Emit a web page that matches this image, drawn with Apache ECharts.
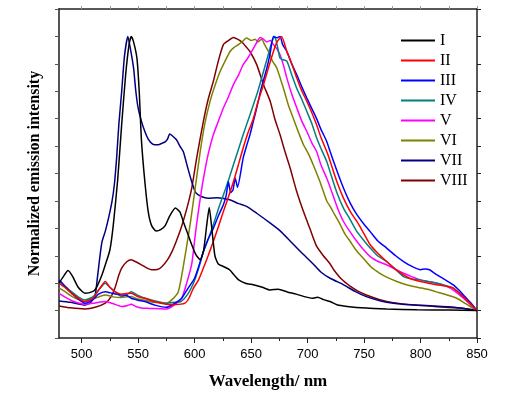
<!DOCTYPE html>
<html>
<head>
<meta charset="utf-8">
<script src="https://cdn.jsdelivr.net/npm/echarts@6/dist/echarts.min.js"></script>
<style>
  html, body { margin: 0; padding: 0; background: #fff; }
  #main { width: 517px; height: 396px; }
</style>
</head>
<body>
<div id="main"></div>
<script type="text/javascript">
	// 图例名称
	var names = ['I', 'II', 'III', 'IV', 'V', 'VI', 'VII', 'VIII'];
	// 每条曲线 [波长 nm, 归一化强度]
	var dataI = [[480,0.10],[484,0.125],[488,0.146],[492,0.125],[497,0.085],[503,0.063],[510,0.07],[513,0.083],[518,0.13],[521,0.167],[525,0.22],[528,0.31],[532,0.48],[535.5,0.68],[539,0.86],[542,0.97],[544,1.0],[546,0.98],[549,0.92],[551,0.80],[553,0.62],[556,0.47],[559,0.36],[562,0.31],[566,0.29],[570,0.295],[574,0.31],[578,0.345],[583,0.374],[587,0.36],[590,0.325],[594,0.28],[597.5,0.24],[601,0.205],[605,0.185],[608,0.22],[611,0.32],[613,0.376],[615,0.31],[618,0.20],[621,0.17],[626,0.16],[631,0.149],[635,0.13],[639,0.112],[645,0.10],[652,0.094],[660,0.085],[667,0.075],[674,0.078],[682,0.068],[690,0.06],[698,0.05],[704,0.045],[709,0.049],[714,0.04],[720,0.033],[726,0.021],[735,0.015],[752,0.009],[770,0.006],[797,0.003],[825,0.002],[850,0]];
	var dataII = [[480,0.10],[485,0.085],[492,0.06],[503,0.033],[510,0.045],[516,0.08],[521,0.106],[525,0.085],[529.5,0.069],[535,0.06],[540,0.062],[544,0.063],[550,0.05],[556,0.045],[565,0.032],[575,0.023],[583,0.022],[591.5,0.027],[595,0.045],[599,0.082],[603.3,0.11],[607.8,0.155],[612,0.2],[616.6,0.252],[621,0.305],[625.5,0.361],[630,0.415],[634.4,0.47],[639,0.535],[643,0.593],[647,0.645],[652,0.70],[656,0.76],[661,0.824],[665,0.88],[669.8,0.945],[673,0.98],[677,1.0],[681.7,0.945],[686,0.9],[690.5,0.848],[695,0.80],[699.4,0.763],[704,0.72],[708,0.678],[712,0.63],[717,0.58],[720,0.545],[726,0.47],[731.8,0.41],[738,0.36],[743.7,0.325],[750,0.28],[755.5,0.24],[762,0.21],[770,0.179],[778,0.15],[785,0.13],[792,0.115],[800,0.106],[807,0.10],[814.6,0.094],[822,0.09],[829,0.082],[838,0.05],[850,0]];
	var dataIII = [[480,0.112],[485,0.09],[492,0.06],[503,0.027],[510,0.04],[515,0.06],[521,0.069],[528,0.062],[535.5,0.057],[540,0.055],[544,0.045],[550,0.038],[556,0.033],[565,0.02],[575,0.012],[582,0.025],[588.6,0.045],[594,0.08],[600,0.118],[604,0.165],[607.8,0.215],[612,0.26],[616.6,0.30],[621,0.345],[625.5,0.386],[628,0.42],[629.9,0.47],[632,0.43],[634,0.44],[636,0.483],[638,0.45],[643,0.556],[646,0.60],[649,0.641],[652,0.69],[655,0.739],[659,0.81],[664,0.885],[667,0.94],[669.8,1.0],[673,0.995],[675.7,1.0],[678,0.97],[681.7,0.945],[686,0.9],[690.5,0.86],[695,0.815],[699.4,0.775],[704,0.735],[708,0.70],[712,0.66],[717,0.617],[720,0.58],[726,0.51],[731.8,0.447],[738,0.39],[743.7,0.35],[750,0.315],[755.5,0.288],[762,0.255],[770,0.228],[778,0.2],[785,0.179],[792,0.162],[800,0.149],[804,0.152],[808,0.149],[811,0.14],[814.6,0.13],[822,0.112],[829,0.094],[834,0.075],[838,0.057],[844,0.03],[850,0]];
	var dataIV = [[480,0.112],[485,0.09],[491,0.069],[497,0.05],[503,0.039],[510,0.05],[515,0.075],[521,0.10],[525,0.085],[529.5,0.069],[535.5,0.051],[540,0.058],[544,0.069],[550,0.055],[556,0.045],[565,0.035],[575,0.027],[582,0.03],[588,0.033],[594,0.06],[600,0.11],[604,0.16],[607.8,0.215],[612,0.26],[616.6,0.313],[621,0.37],[625.5,0.422],[630,0.475],[634.4,0.532],[639,0.59],[643,0.641],[647,0.69],[652,0.75],[656,0.80],[661,0.872],[665,0.93],[668.4,0.98],[671,1.0],[673,0.97],[675.7,0.92],[678,0.915],[681.7,0.91],[686,0.86],[690.5,0.81],[695,0.77],[699.4,0.726],[704,0.68],[708,0.63],[712,0.59],[717,0.544],[720,0.505],[726,0.43],[731.8,0.374],[738,0.33],[743.7,0.288],[750,0.255],[755.5,0.228],[762,0.20],[770,0.179],[778,0.15],[785,0.124],[792,0.115],[800,0.112],[807,0.106],[814.6,0.10],[822,0.092],[829,0.082],[838,0.05],[850,0]];
	var dataV = [[480,0.063],[485,0.05],[492,0.035],[503,0.023],[512,0.028],[521,0.033],[528,0.025],[535.5,0.015],[540,0.018],[544,0.023],[548,0.015],[553,0.009],[560,0.008],[568,0.007],[575,0.006],[582,0.02],[588.6,0.045],[593,0.1],[597.5,0.17],[601,0.29],[604,0.38],[607.8,0.48],[612,0.57],[616.6,0.641],[621,0.69],[625.5,0.739],[630,0.78],[634.4,0.824],[639,0.86],[643,0.897],[647,0.92],[650.6,0.945],[654,0.97],[658,0.996],[661,0.99],[664,0.98],[667,0.985],[669.8,0.97],[672,0.96],[675.7,0.933],[679,0.89],[681.7,0.848],[686,0.79],[690.5,0.739],[695,0.69],[699.4,0.653],[704,0.61],[708,0.58],[712,0.53],[717,0.483],[720,0.45],[726,0.38],[731.8,0.325],[738,0.285],[743.7,0.252],[750,0.22],[755.5,0.197],[762,0.18],[770,0.167],[778,0.15],[785,0.136],[792,0.124],[800,0.112],[807,0.105],[814.6,0.10],[822,0.09],[829,0.075],[838,0.045],[850,0]];
	var dataVI = [[480,0.083],[485,0.07],[492,0.05],[503,0.033],[512,0.045],[521,0.057],[528,0.05],[535,0.048],[540,0.05],[544,0.051],[550,0.042],[556,0.038],[562,0.031],[570,0.028],[575,0.027],[580,0.04],[585.6,0.069],[590,0.16],[596,0.313],[600,0.43],[605,0.58],[609,0.68],[613.7,0.763],[618,0.82],[622.6,0.872],[627,0.91],[631.4,0.945],[635,0.96],[638.8,0.97],[642,0.98],[646,0.994],[650,0.985],[653.6,0.99],[656,0.98],[659.5,0.99],[662,0.97],[665.4,0.945],[669,0.91],[672.8,0.885],[678.7,0.81],[683,0.75],[687.5,0.70],[692,0.65],[696.4,0.605],[701,0.57],[705,0.532],[711,0.47],[717,0.40],[720,0.38],[724,0.35],[729,0.313],[733,0.28],[737.8,0.252],[743,0.22],[749.5,0.19],[756,0.16],[764,0.136],[771,0.12],[779,0.106],[786,0.096],[793.8,0.088],[801,0.082],[808.6,0.075],[816,0.066],[823.4,0.057],[832,0.045],[840,0.025],[850,0]];
	var dataVII = [[480,0.035],[490,0.03],[503,0.02],[508,0.03],[512,0.057],[514,0.12],[516,0.19],[518,0.25],[521,0.29],[524,0.34],[527,0.40],[529,0.46],[531,0.556],[533,0.68],[535.5,0.80],[538,0.93],[541,1.0],[543,0.96],[546,0.885],[548,0.80],[550,0.74],[553,0.69],[556,0.653],[559,0.625],[562,0.61],[565,0.605],[568,0.605],[571,0.61],[574,0.615],[576,0.625],[578,0.644],[581,0.635],[584,0.623],[587,0.60],[590,0.58],[594,0.52],[597.5,0.47],[601,0.43],[606,0.416],[612,0.41],[620,0.412],[631,0.404],[639,0.39],[646,0.38],[655,0.355],[667,0.319],[676,0.29],[685,0.252],[695,0.21],[705,0.17],[712,0.14],[720,0.118],[732,0.094],[742,0.07],[752,0.051],[764,0.036],[776,0.027],[795,0.02],[811,0.017],[830,0.012],[850,0]];
	var dataVIII = [[480,0.017],[490,0.01],[503,0.006],[512,0.012],[521,0.027],[526,0.05],[529.5,0.082],[533,0.13],[535.5,0.155],[540,0.178],[544,0.185],[548,0.178],[553,0.167],[558,0.155],[562,0.149],[567,0.15],[571,0.16],[576,0.185],[580,0.215],[584,0.255],[588,0.30],[593,0.37],[597.5,0.447],[602,0.56],[607.8,0.69],[612,0.77],[616.6,0.836],[621,0.91],[625.5,0.97],[630,0.985],[634.4,0.996],[638,0.99],[641.8,0.98],[645,0.965],[649,0.945],[655,0.897],[661,0.824],[667,0.763],[671,0.70],[675.7,0.641],[680,0.58],[684.6,0.52],[690,0.44],[696.4,0.361],[702,0.30],[708,0.235],[714,0.2],[720,0.17],[723,0.15],[730,0.115],[738,0.088],[745,0.07],[752,0.057],[764,0.04],[776,0.029],[795,0.02],[812,0.015],[835,0.009],[850,0]];
	var allData = [dataI, dataII, dataIII, dataIV, dataV, dataVI, dataVII, dataVIII];
	var colors = ['#000000', '#ff0000', '#0000ff', '#008080', '#ff00ff', '#808000', '#000080', '#800000'];
	// 刻度
	var majorTicks = [500, 550, 600, 650, 700, 750, 800, 850];
	var minorTicks = [525, 575, 625, 675, 725, 775, 825];

	var myChart = echarts.init(document.getElementById('main'));
	var axisColor = '#222';

	var series = [];
	for (var i = 0; i < names.length; i++) {
	    series.push({
	        name: names[i],
	        type: 'line',
	        symbol: 'none',
	        smooth: 0.2,
	        lineStyle: { color: colors[i], width: 1.5 },
	        itemStyle: { color: colors[i] },
	        data: allData[i],
	        z: 10 - i
	    });
	}

	var option = {
	    animation: false,
	    grid: { left: 59, right: 40, top: 9, bottom: 58, containLabel: false },
	    legend: {
	        data: names,
	        orient: 'vertical',
	        left: 396,
	        top: 27,
	        icon: 'rect',
	        itemWidth: 34,
	        itemHeight: 2,
	        itemGap: 3,
	        textStyle: { fontFamily: 'Liberation Serif', fontSize: 16, color: '#000', lineHeight: 17 }
	    },
	    xAxis: [
	        {
	            type: 'value', min: 480, max: 850, position: 'bottom',
	            name: 'Wavelength/ nm', nameLocation: 'middle', nameGap: 35,
	            nameTextStyle: { fontFamily: 'Liberation Serif', fontWeight: 'bold', fontSize: 17, color: '#000' },
	            axisLine: { show: true, onZero: false, lineStyle: { color: axisColor, width: 1.5 } },
	            axisTick: { show: true, length: 5, customValues: majorTicks, lineStyle: { color: axisColor } },
	            axisLabel: { customValues: majorTicks, margin: 10, fontFamily: 'Liberation Sans', fontSize: 13, color: '#000' },
	            splitLine: { show: false }
	        },
	        {
	            type: 'value', min: 480, max: 850, position: 'bottom',
	            axisLine: { show: false, onZero: false },
	            axisTick: { show: true, length: 3, customValues: minorTicks, lineStyle: { color: axisColor } },
	            axisLabel: { show: false },
	            splitLine: { show: false }
	        },
	        {
	            type: 'value', min: 480, max: 850, position: 'top',
	            axisLine: { show: true, onZero: false, lineStyle: { color: axisColor, width: 1.5 } },
	            axisTick: { show: true, length: 3, customValues: majorTicks.concat(minorTicks), lineStyle: { color: '#999' } },
	            axisLabel: { show: false },
	            splitLine: { show: false }
	        }
	    ],
	    yAxis: [
	        {
	            type: 'value', min: -0.1, max: 1.1, interval: 0.1, position: 'left',
	            name: 'Normalized emission intensity', nameLocation: 'middle', nameGap: 16,
	            nameTextStyle: { fontFamily: 'Liberation Serif', fontWeight: 'bold', fontSize: 16, color: '#000' },
	            axisLine: { show: true, onZero: false, lineStyle: { color: '#555', width: 2 } },
	            axisTick: { show: true, length: 4, lineStyle: { color: '#555' } },
	            axisLabel: { show: false },
	            splitLine: { show: false }
	        },
	        {
	            type: 'value', min: -0.1, max: 1.1, interval: 0.1, position: 'right',
	            axisLine: { show: true, onZero: false, lineStyle: { color: axisColor, width: 1.5 } },
	            axisTick: { show: true, length: 4, lineStyle: { color: axisColor } },
	            axisLabel: { show: false },
	            splitLine: { show: false }
	        }
	    ],
	    series: series
	};
	myChart.setOption(option);
</script>
</body>
</html>
